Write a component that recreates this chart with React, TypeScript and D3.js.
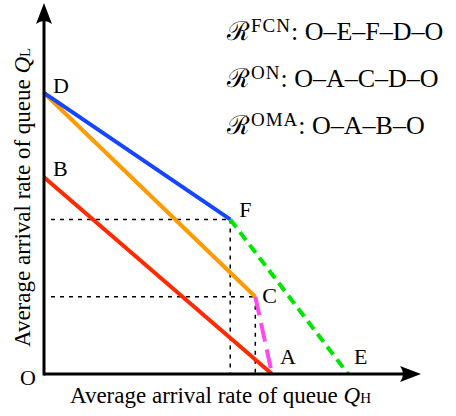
import React from "react";
import { scaleLinear, line } from "d3";

// corner points of the rate regions (x = rate of Q_H, y = rate of Q_L)
const pointNames = ["O", "D", "B", "F", "C", "A", "E"];
const pointX = [0, 0, 0, 2.45, 2.78, 3.0, 4.0];
const pointY = [0, 4.0, 2.8, 2.2, 1.1, 0, 0];

// boundary segments
const lineStarts = ["B", "D", "D", "F", "C"];
const lineEnds = ["A", "C", "F", "E", "A"];

// dotted guides drop from these points to both axes
const guidePoints = ["F", "C"];

// legend rows
const legendSeries = ["FCN", "ON", "OMA"];
const legendPaths = ["O–E–F–D–O", "O–A–C–D–O", "O–A–B–O"];

const xLabel = "Average arrival rate of queue ";
const yLabel = "Average arrival rate of queue ";

const width = 456;
const height = 416;
const origin = { x: 44, y: 374 };
const xMax = 4.96;
const yMax = 5.28;

const serif = "'Liberation Serif', 'Times New Roman', serif";

export default function App() {
  const x = scaleLinear().domain([0, xMax]).range([origin.x, 421]);
  const y = scaleLinear().domain([0, yMax]).range([origin.y, 3]);

  const pt = (name: string) => {
    const i = pointNames.indexOf(name);
    return [x(pointX[i]), y(pointY[i])] as [number, number];
  };

  const segStyles = [
    { stroke: "#ff2a00", dash: undefined },
    { stroke: "#ff9a00", dash: undefined },
    { stroke: "#1446ff", dash: undefined },
    { stroke: "#00e600", dash: "10 6" },
    { stroke: "#ff4ae8", dash: "19 8" },
  ];

  const labelOffset: Record<string, [number, number]> = {
    O: [-24, 11],
    D: [9, 0],
    B: [9, -1],
    F: [9, -2],
    C: [7, 6],
    A: [8, -10],
    E: [6, -10],
  };

  const lineGen = line();
  const x0 = x(0);
  const y0 = y(0);
  const xTip = x(xMax);
  const yTip = y(yMax);

  return (
    <svg
      width={width}
      height={height}
      style={{ position: "absolute", left: 0, top: 0, background: "#fff" }}
    >
      {/* dotted guides */}
      {guidePoints.map((name) => {
        const [px, py] = pt(name);
        return (
          <g key={"g" + name} stroke="#000" strokeWidth={1.5} strokeDasharray="4 5" fill="none">
            <line x1={x0 + 7} y1={py} x2={px} y2={py} />
            <line x1={px} y1={py} x2={px} y2={y0} />
          </g>
        );
      })}

      {/* region boundaries */}
      {lineStarts.map((s, i) => (
        <path
          key={s + lineEnds[i]}
          d={lineGen([pt(s), pt(lineEnds[i])]) || ""}
          stroke={segStyles[i].stroke}
          strokeWidth={4}
          strokeDasharray={segStyles[i].dash}
          fill="none"
        />
      ))}

      {/* axes */}
      <line x1={x0} y1={y0} x2={xTip - 8} y2={y0} stroke="#000" strokeWidth={3} />
      <line x1={x0} y1={y0 + 1.5} x2={x0} y2={yTip + 8} stroke="#000" strokeWidth={3} />
      <path
        d={`M${xTip},${y0} L${xTip - 21},${y0 - 8} Q${xTip - 15},${y0} ${xTip - 21},${y0 + 8} Z`}
        fill="#000"
      />
      <path
        d={`M${x0},${yTip} L${x0 - 8},${yTip + 21} Q${x0},${yTip + 15} ${x0 + 8},${yTip + 21} Z`}
        fill="#000"
      />

      {/* point labels */}
      {pointNames.map((name) => {
        const [px, py] = pt(name);
        const [dx, dy] = labelOffset[name];
        return (
          <text
            key={"l" + name}
            x={px + dx}
            y={py + dy}
            fontFamily={serif}
            fontSize={22}
            fill="#000"
          >
            {name}
          </text>
        );
      })}

      {/* axis titles */}
      <text x={70} y={403} fontFamily={serif} fontSize={23} fill="#000">
        {xLabel}
        <tspan fontStyle="italic">Q</tspan>
        <tspan fontSize={15}>H</tspan>
      </text>
      <text
        transform={`translate(30,${347}) rotate(-90)`}
        fontFamily={serif}
        fontSize={23}
        fill="#000"
      >
        {yLabel}
        <tspan fontStyle="italic">Q</tspan>
        <tspan fontSize={15}>L</tspan>
      </text>

      {/* legend */}
      {legendSeries.map((s, i) => (
        <text
          key={"leg" + s}
          x={227}
          y={40 + i * 47}
          fontFamily={serif}
          fontSize={26}
          fill="#000"
        >
          <tspan>ℛ</tspan>
          <tspan dx={1} dy={-8} fontSize={19} letterSpacing={1}>
            {s}
          </tspan>
          <tspan dy={8}>{": " + legendPaths[i]}</tspan>
        </text>
      ))}
    </svg>
  );
}
